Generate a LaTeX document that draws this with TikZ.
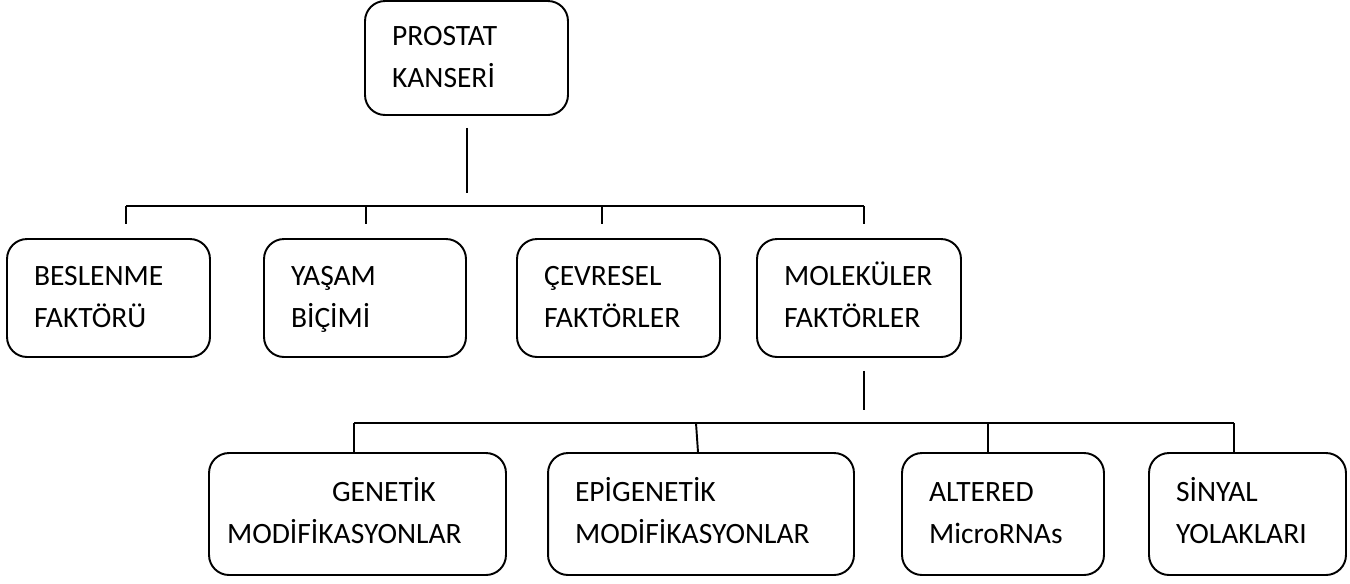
\documentclass[tikz,border=0pt]{standalone}
\usepackage{fontspec}
\setmainfont{Carlito}
\newcommand{\boxfont}{\fontsize{16.8}{23.9}\selectfont}
\newcommand{\twolines}[2]{\strut#1\\\strut#2}
\tikzset{
  factor/.style={draw, line width=1.1pt, rounded corners=0.4cm, align=left,
    inner xsep=0.54cm, inner ysep=0pt, font=\boxfont},
  link/.style={line width=1.1pt}
}
\begin{document}
\begin{tikzpicture}[x=0.02cm, y=-0.02cm]
    \useasboundingbox (0,0) rectangle (1350,583);

    % Root
    \node[factor, text width=2.98cm, minimum height=2.28cm]
      (prostat) at (466.5,58) {\twolines{PROSTAT}{KANSERİ}};

    % Risk factors
    \node[factor, text width=2.98cm, minimum height=2.36cm]
      (beslenme) at (108.5,298) {\twolines{BESLENME}{FAKTÖRÜ}};
    \node[factor, text width=2.96cm, minimum height=2.36cm]
      (yasam) at (365,298) {\twolines{YAŞAM}{BİÇİMİ}};
    \node[factor, text width=2.98cm, minimum height=2.36cm]
      (cevresel) at (618.5,298) {\twolines{ÇEVRESEL}{FAKTÖRLER}};
    \node[factor, text width=3.00cm, minimum height=2.36cm]
      (molekuler) at (859,298) {\twolines{MOLEKÜLER}{FAKTÖRLER}};

    % Molecular factors
    \node[factor, inner xsep=0.36cm, text width=5.22cm, minimum height=2.44cm]
      (genetik) at (357.5,514) {\twolines{\hspace*{2.1cm}GENETİK}{MODİFİKASYONLAR}};
    \node[factor, text width=5.04cm, minimum height=2.44cm]
      (epigenetik) at (701,514) {\twolines{EPİGENETİK}{MODİFİKASYONLAR}};
    \node[factor, text width=2.96cm, minimum height=2.44cm]
      (altered) at (1003,514) {\twolines{ALTERED}{MicroRNAs}};
    \node[factor, text width=2.86cm, minimum height=2.44cm]
      (sinyal) at (1247.5,514) {\twolines{SİNYAL}{YOLAKLARI}};

    % Upper tree
    \foreach \n/\x in {0/467,1/126,2/366,3/602,4/864}
      \coordinate (up\n) at (\x,206);
    \draw[link, shorten <=0.24cm, shorten >=0.26cm] (up0 |- prostat.south) -- (up0);
    \draw[link] (up1) -- (up4);
    \foreach \n/\b in {1/beslenme,2/yasam,3/cevresel,4/molekuler}
      \draw[link, shorten >=0.28cm] (up\n) -- (up\n |- \b.north);

    % Lower tree
    \foreach \n/\x in {0/864,1/354,2/696,3/988,4/1234}
      \coordinate (dn\n) at (\x,423);
    \draw[link, shorten <=0.26cm, shorten >=0.26cm] (dn0 |- molekuler.south) -- (dn0);
    \draw[link] (dn1) -- (dn4);
    \draw[link] (dn1) -- (dn1 |- genetik.north);
    \draw[link] (dn2) -- ([xshift=0.04cm]dn2 |- epigenetik.north);
    \draw[link] (dn3) -- (dn3 |- altered.north);
    \draw[link] (dn4) -- (dn4 |- sinyal.north);
\end{tikzpicture}
\end{document}
